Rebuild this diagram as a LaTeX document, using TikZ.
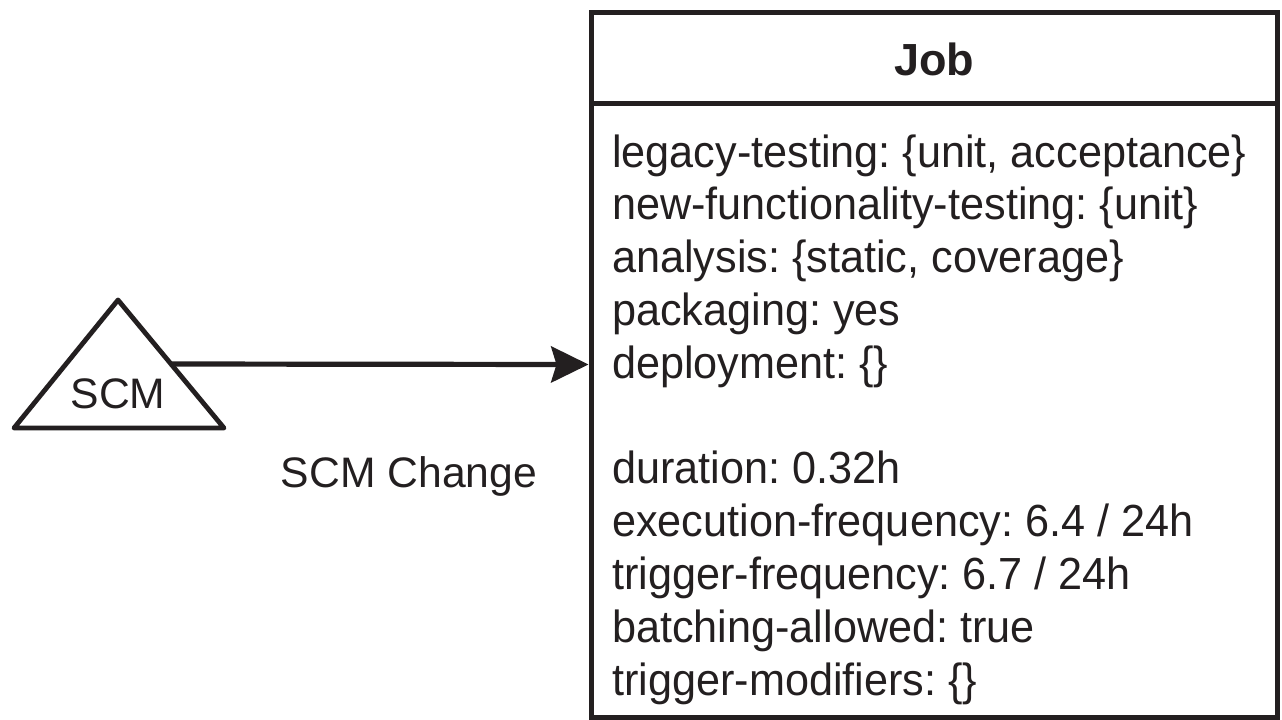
\documentclass[tikz,border=0pt]{standalone}
\usepackage{fontspec}
\setmainfont{Liberation Sans}[FakeStretch=0.96]
\newfontfamily\lblfont{Liberation Sans}
\usetikzlibrary{arrows.meta}
\definecolor{ink}{RGB}{35,31,32}
\frenchspacing
\tikzset{
  x=0.75pt, y=-0.75pt,
  thick line/.style={draw=ink, line width=3.75pt},
  jobtext/.style={anchor=base west, inner sep=0pt, text=ink, font=\fontsize{33.75pt}{39pt}\selectfont},
  lbltext/.style={anchor=base, inner sep=0pt, text=ink, font=\lblfont\fontsize{32pt}{38pt}\selectfont},
  flow/.style={draw=ink, line width=3.9pt, -{Stealth[length=28pt, width=27pt, inset=4pt]}}
}
\begin{document}
\begin{tikzpicture}
\useasboundingbox (0,0) rectangle (1282,719);
% Job box
\node[thick line, minimum width=514.5pt, minimum height=528.75pt, inner sep=0pt] (job) at (934,364.5) {};
\coordinate (divL) at (591,103);
\coordinate (divR) at (1277,103);
\draw[thick line] (divL) -- (divR);
\node[anchor=base, inner sep=0pt, text=ink, font=\lblfont\fontsize{33.75pt}{39pt}\selectfont\bfseries] (title) at (934,75) {Job};
\node[jobtext] (l1) at (612,167) {legacy-testing: \{unit, acceptance\}};
\node[jobtext] (l2) at (612,219.8) {new-functionality-testing: \{unit\}};
\node[jobtext] (l3) at (612,272.6) {analysis: \{static, coverage\}};
\node[jobtext] (l4) at (612,325.4) {packaging: yes};
\node[jobtext] (l5) at (612,378.2) {deployment: \{\}};
\node[jobtext] (l6) at (612,483.8) {duration: 0.32h};
\node[jobtext] (l7) at (612,536.6) {execution-frequency: 6.4 / 24h};
\node[jobtext] (l8) at (612,589.4) {trigger-frequency: 6.7 / 24h};
\node[jobtext] (l9) at (612,642.2) {batching-allowed: true};
\node[jobtext] (l10) at (612,695) {trigger-modifiers: \{\}};
% SCM triangle
\coordinate (apex) at (118,300);
\coordinate (bl) at (14,428);
\coordinate (br) at (224,428);
\draw[draw=ink, line width=3.6pt, line join=round] (apex) -- (br) -- (bl) -- cycle;
\node[lbltext] (scm) at (118,408) {SCM};
\coordinate (scmR) at (170,364);
% connector
\draw[flow] (scmR) -- (job.west);
\node[lbltext] (chg) at (409,487) {SCM Change};
\end{tikzpicture}
\end{document}
